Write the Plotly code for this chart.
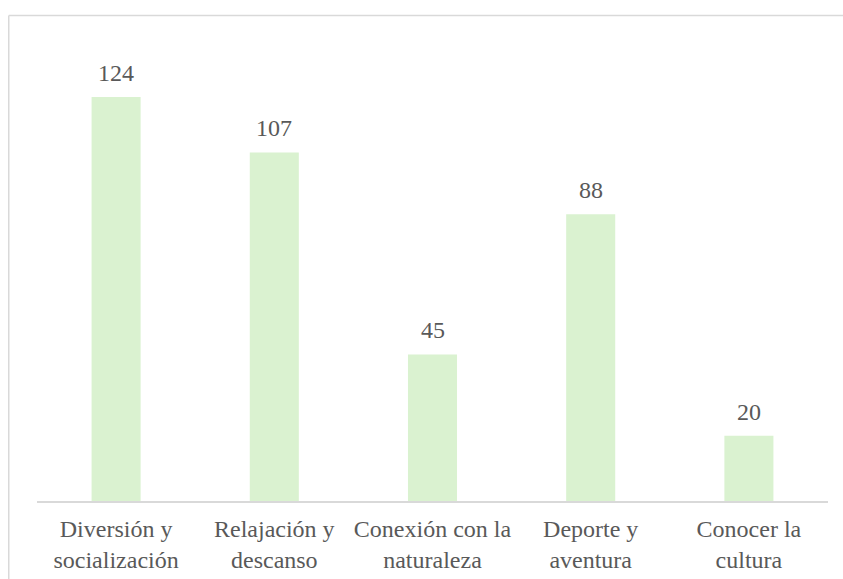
import plotly.graph_objects as go

categories = ["Diversión y<br>socialización", "Relajación y<br>descanso",
              "Conexión con la<br>naturaleza", "Deporte y<br>aventura", "Conocer la<br>cultura"]
values = [124, 107, 45, 88, 20]

W, H = 843, 579
ml, mr, mt, mb = 37, 15, 45, 78
pw, ph = W - ml - mr, H - mt - mb

FONT = "Liberation Serif"
TXT = "#595959"

fig = go.Figure()
fig.add_trace(go.Bar(x=categories, y=values, marker=dict(color="#DAF2D0", line=dict(width=0)),
                     hoverinfo="skip"))

for c, v in zip(categories, values):
    fig.add_annotation(x=c, y=v, text=str(v), showarrow=False, yanchor="bottom",
                       yshift=9, font=dict(family=FONT, size=24, color=TXT))

# chart frame (left & top edges visible)
bx = (8.75 - ml) / pw
by = 1 + (mt - 15.5) / ph
fig.add_shape(type="line", xref="paper", yref="paper", x0=bx, x1=bx, y0=-1, y1=by,
              line=dict(color="#D9D9D9", width=1.5))
fig.add_shape(type="line", xref="paper", yref="paper", x0=bx, x1=1.5, y0=by, y1=by,
              line=dict(color="#D9D9D9", width=1.5))

fig.update_layout(
    width=W, height=H,
    margin=dict(l=ml, r=mr, t=mt, b=mb, autoexpand=False),
    paper_bgcolor="white", plot_bgcolor="white",
    bargap=0.69, showlegend=False,
    font=dict(family=FONT, size=24, color=TXT),
    xaxis=dict(showline=True, linecolor="#D9D9D9", linewidth=1.5, ticks="",
               ticklabelstandoff=5, automargin=False,
               tickfont=dict(family=FONT, size=24, color=TXT), showgrid=False),
    yaxis=dict(range=[0, 140], visible=False, showgrid=False, zeroline=False,
               automargin=False),
)

fig.write_html("out.html", config={"displayModeBar": False},
               post_script="document.body.style.margin='0';document.body.style.overflow='hidden';")
